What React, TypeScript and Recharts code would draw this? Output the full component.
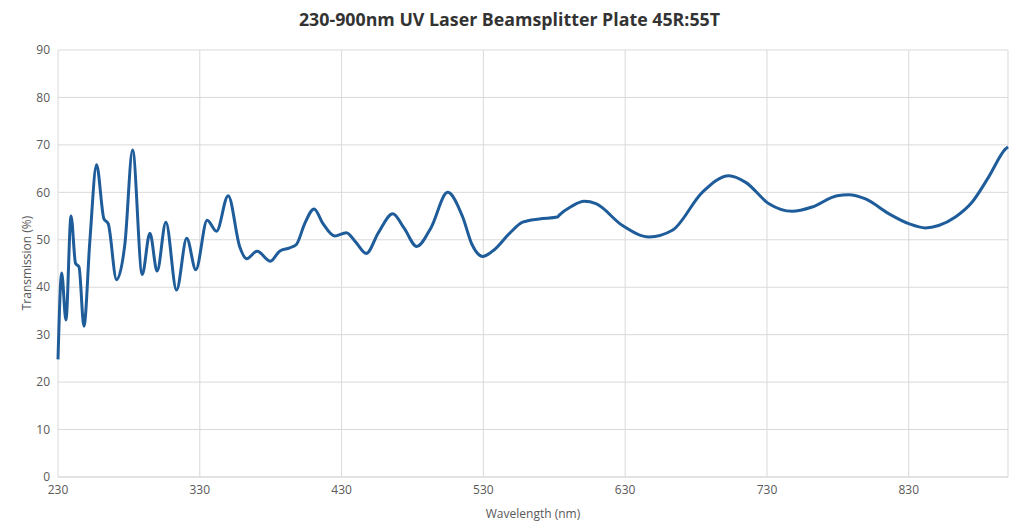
import { LineChart, Line, XAxis, YAxis, CartesianGrid } from "recharts";

const wavelengths = [
  230, 232.6, 235.6, 239.2, 242.4, 244.8, 248.3, 252.5, 257.2, 262.4, 265.4, 271.3, 277.2, 282.6,
  289.4, 294.8, 299.9, 306.1, 313.6, 320.8, 327.2, 335.2, 341.8, 350, 358.2, 363, 370.4, 379.8,
  386.3, 393.4, 398.1, 404, 410.6, 416.9, 425.1, 433.3, 440, 447.4, 456, 466.1, 474, 483, 493,
  504.8, 515.4, 522, 529.5, 537.7, 548.3, 557.7, 569.4, 582.3, 583.5, 592, 601.1, 609.4, 628.1,
  646.9, 663.3, 684.4, 703.2, 715, 731.4, 747.8, 761.9, 779.5, 787.7, 799.5, 815.9, 830, 841.7,
  851.1, 862.9, 874.6, 886.3, 898.1, 900,
];

const transmission = [
  24.8, 43.0, 33.1, 55.0, 45.0, 44.3, 31.8, 49.9, 65.8, 54.4, 53.4, 41.6, 49.2, 68.9,
  42.7, 51.4, 43.4, 53.7, 39.4, 50.3, 43.7, 54.1, 51.8, 59.3, 48.5, 46.0, 47.6, 45.5,
  47.6, 48.3, 49.0, 53.4, 56.5, 53.4, 50.8, 51.5, 49.5, 47.1, 51.5, 55.5, 52.5, 48.6, 52.5,
  60.0, 54.8, 49.0, 46.5, 47.9, 51.3, 53.7, 54.4, 54.8, 55.2, 57.0, 58.1, 57.6, 53.0,
  50.6, 52.0, 60.0, 63.5, 62.1, 57.6, 56.0, 56.9, 59.3, 59.5, 58.6, 55.5, 53.4, 52.5,
  53.0, 54.8, 57.9, 63.2, 69.1, 69.6,
];

const xTicks = [230, 330, 430, 530, 630, 730, 830, 900];
const yTicks = [0, 10, 20, 30, 40, 50, 60, 70, 80, 90];

const title = "230-900nm UV Laser Beamsplitter Plate 45R:55T";
const xLabel = "Wavelength (nm)";
const yLabel = "Transmission (%)";

const data = wavelengths.map((w, i) => ({ w, t: transmission[i] }));

const font = "'Open Sans', 'Noto Sans', sans-serif";
const tickStyle = { fill: "#595959", fontSize: 12, fontFamily: font };

export default function App() {
  return (
    <div style={{ position: "absolute", left: 0, top: 0, width: 1019, height: 527, background: "#fff" }}>
      <div
        style={{
          position: "absolute",
          top: 7,
          left: 0,
          width: 1019,
          textAlign: "center",
          fontFamily: font,
          fontWeight: 700,
          fontSize: 17.8,
          color: "#333",
        }}
      >
        {title}
      </div>
      <LineChart width={1019} height={527} data={data} margin={{ top: 50, right: 11, bottom: 0, left: 0 }}>
        <CartesianGrid stroke="#d9d9d9" />
        <XAxis
          dataKey="w"
          type="number"
          domain={[230, 900]}
          ticks={xTicks}
          tickFormatter={(v: number) => (v === 900 ? "" : String(v))}
          tickLine={false}
          axisLine={{ stroke: "#d9d9d9" }}
          tick={tickStyle}
          height={50}
          interval={0}
        />
        <YAxis
          type="number"
          domain={[0, 90]}
          ticks={yTicks}
          tickLine={false}
          axisLine={false}
          tick={tickStyle}
          width={58}
          interval={0}
        />
        <Line
          type="monotone"
          dataKey="t"
          stroke="#1f5c9a"
          strokeWidth={3}
          dot={false}
          isAnimationActive={false}
        />
      </LineChart>
      <div
        style={{
          position: "absolute",
          top: 505,
          left: 58,
          width: 950,
          textAlign: "center",
          fontFamily: font,
          fontSize: 12,
          color: "#595959",
        }}
      >
        {xLabel}
      </div>
      <div
        style={{
          position: "absolute",
          left: 26,
          top: 263,
          transform: "translate(-50%, -50%) rotate(-90deg)",
          whiteSpace: "nowrap",
          fontFamily: font,
          fontSize: 12,
          color: "#595959",
        }}
      >
        {yLabel}
      </div>
    </div>
  );
}
